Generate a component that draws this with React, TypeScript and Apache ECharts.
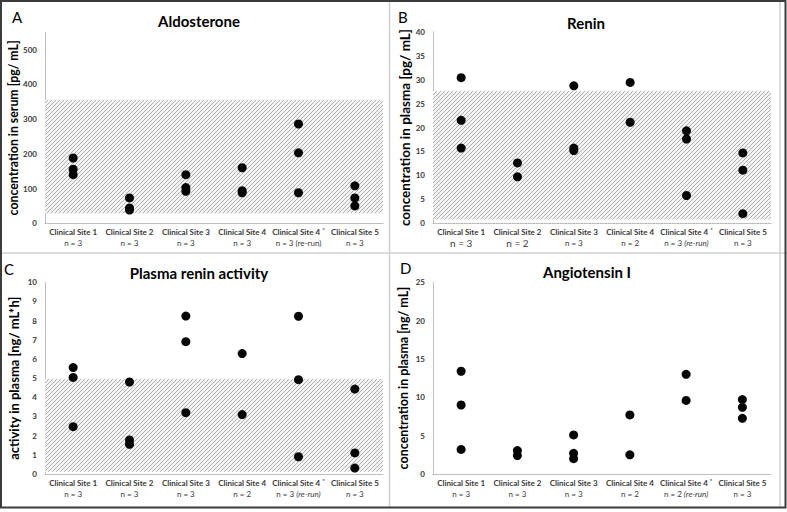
import React, { useEffect, useRef } from "react";
import * as echarts from "echarts";

// ---------- data ----------
const categories = [
  "Clinical Site 1",
  "Clinical Site 2",
  "Clinical Site 3",
  "Clinical Site 4",
  "Clinical Site 4*",
  "Clinical Site 5",
];

const nLabelsA = ["n = 3", "n = 3", "n = 3", "n = 3", "n = 3 (re-run)", "n = 3"];
const nLabelsB = ["n = 3", "n = 2", "n = 3", "n = 2", "n = 3 (re-run)", "n = 3"];
const nLabelsC = ["n = 3", "n = 3", "n = 3", "n = 2", "n = 3 (re-run)", "n = 3"];
const nLabelsD = ["n = 3", "n = 3", "n = 3", "n = 2", "n = 2 (re-run)", "n = 3"];

// Aldosterone (pg/mL)
const aldosterone = [
  [188, 156, 140],
  [73, 44, 38],
  [140, 103, 92],
  [160, 94, 88],
  [286, 203, 88],
  [108, 73, 50],
];
const aldosteroneRange = [29, 356];

// Renin (pg/mL)
const renin = [
  [30.4, 21.5, 15.7],
  [12.6, 9.7],
  [28.7, 15.7, 15.2],
  [29.4, 21.1],
  [19.3, 17.6, 5.8],
  [14.7, 11.1, 2.0],
];
const reninRange = [0.8, 27.6];

// Plasma renin activity (ng/mL*h)
const pra = [
  [5.55, 5.04, 2.47],
  [4.8, 1.78, 1.55],
  [8.24, 6.9, 3.2],
  [6.28, 3.1],
  [8.23, 4.92, 0.9],
  [4.43, 1.1, 0.31],
];
const praRange = [0.12, 4.96];

// Angiotensin I (ng/mL)
const angiotensin = [
  [13.4, 9.0, 3.2],
  [3.05, 2.4],
  [5.1, 2.7, 2.0],
  [7.7, 2.5],
  [13.0, 9.6],
  [9.7, 8.7, 7.26],
];

const titles = ["Aldosterone", "Renin", "Plasma renin activity", "Angiotensin I"];
const letters = ["A", "B", "C", "D"];
const yNames = [
  "concentration in serum [pg/ mL]",
  "concentration in plasma [pg/ mL]",
  "activity in plasma [ng/ mL*h]",
  "concentration in plasma [ng/ mL]",
];
const yMax = [550, 40, 10, 25];
const yInterval = [100, 5, 1, 5];

const FONT = "Lato, 'Open Sans', sans-serif";

export default function App() {
  const ref = useRef<HTMLDivElement>(null);

  useEffect(() => {
    if (!ref.current) return;
    const chart = echarts.init(ref.current, null, { renderer: "svg" });

    // hatch pattern tile
    const tile = document.createElement("canvas");
    tile.width = 4;
    tile.height = 4;
    const ctx = tile.getContext("2d")!;
    ctx.fillStyle = "#f4f4f4";
    ctx.fillRect(0, 0, 4, 4);
    ctx.strokeStyle = "#a9a9a9";
    ctx.lineWidth = 0.9;
    ctx.beginPath();
    ctx.moveTo(0, 4);
    ctx.lineTo(4, 0);
    ctx.moveTo(-1, 1);
    ctx.lineTo(1, -1);
    ctx.moveTo(3, 5);
    ctx.lineTo(5, 3);
    ctx.stroke();
    const hatch: any = { image: tile, repeat: "repeat", imageWidth: 4, imageHeight: 4 };

    const panelValues = [aldosterone, renin, pra, angiotensin];
    const panelRanges: (number[] | null)[] = [aldosteroneRange, reninRange, praRange, null];
    const panelN = [nLabelsA, nLabelsB, nLabelsC, nLabelsD];
    const italicReRun = [false, true, true, true];

    const grids = [
      { left: 45, top: 32.3, width: 338, height: 191 },
      { left: 433, top: 31.7, width: 338, height: 191.6 },
      { left: 45, top: 282.3, width: 338, height: 191.7 },
      { left: 433, top: 282.3, width: 337.5, height: 191.7 },
    ];
    const nameSizes = [12.3, 13.5, 13, 12.5];
    const nameGaps = [23.5, 21, 24.5, 23];
    const titlePos = [
      [199, 21],
      [586, 23],
      [199, 273],
      [587, 272],
    ];
    const letterPos = [
      [12, 17],
      [398, 16.5],
      [4, 269],
      [400, 268],
    ];

    const xAxes = grids.map((_, p) => ({
      type: "category",
      gridIndex: p,
      data: categories,
      boundaryGap: true,
      axisLine: { show: true, lineStyle: { color: "#bfbfbf", width: 1 } },
      axisTick: { show: false },
      splitLine: { show: false },
      axisLabel: {
        interval: 0,
        margin: 4,
        fontFamily: FONT,
        formatter: (value: string, idx: number) => {
          const star = value.endsWith("*");
          const name = star
            ? `{b|${value.slice(0, -1)}}{sup|*}`
            : `{b|${value}}`;
          const n = panelN[p][idx];
          const m = n.match(/^(.*?)(\(re-run\))$/);
          const big = p === 1 && idx < 2;
          const nStyle = big ? "nb" : "n";
          let second = `{${nStyle}|${n}}`;
          if (m) {
            second = italicReRun[p]
              ? `{n|${m[1]}}{i|${m[2]}}`
              : `{n|${m[1]}${m[2]}}`;
          }
          return name + "\n" + second;
        },
        rich: {
          b: { fontFamily: FONT, fontWeight: "bold", fontSize: 8, color: "#3a3a3a", lineHeight: 10 },
          sup: { fontFamily: FONT, fontWeight: "bold", fontSize: 6, color: "#3a3a3a", lineHeight: 10, padding: [0, 0, 5, 2] },
          n: { fontFamily: FONT, fontSize: 8, color: "#3a3a3a", lineHeight: 11 },
          nb: { fontFamily: FONT, fontSize: 10, color: "#3a3a3a", lineHeight: 11 },
          i: { fontFamily: FONT, fontStyle: "italic", fontSize: 8, color: "#3a3a3a", lineHeight: 11 },
        },
      },
    }));

    const yAxes = grids.map((_, p) => ({
      type: "value",
      gridIndex: p,
      min: 0,
      max: yMax[p],
      interval: yInterval[p],
      name: yNames[p],
      nameLocation: "middle",
      nameGap: nameGaps[p],
      nameRotate: 90,
      nameTextStyle: { fontFamily: FONT, fontWeight: "bold", fontSize: nameSizes[p], color: "#000" },
      axisLine: { show: true, lineStyle: { color: "#bfbfbf", width: 1 } },
      axisTick: { show: false },
      splitLine: { show: false },
      axisLabel: {
        showMaxLabel: p === 0 ? false : true,
        margin: 8,
        fontFamily: FONT,
        fontWeight: "bold",
        fontSize: 8,
        color: "#3a3a3a",
      },
    }));

    const series = panelValues.map((vals, p) => {
      const data: number[][] = [];
      vals.forEach((arr, i) => arr.forEach((v) => data.push([i, v])));
      const range = panelRanges[p];
      const s: any = {
        type: "scatter",
        xAxisIndex: p,
        yAxisIndex: p,
        data,
        symbol: "circle",
        symbolSize: 9,
        itemStyle: { color: "#050505", opacity: 1 },
        z: 3,
      };
      if (range) {
        s.markArea = {
          silent: true,
          z: 1,
          itemStyle: { color: hatch, borderWidth: 0, opacity: 1 },
          data: [[{ yAxis: range[0] }, { yAxis: range[1] }]],
        };
      }
      return s;
    });

    const graphics: any[] = [];
    titles.forEach((t, p) => {
      graphics.push({
        type: "text",
        x: titlePos[p][0],
        y: titlePos[p][1],
        style: {
          text: t,
          fontFamily: FONT,
          fontWeight: "bold",
          fontSize: 15,
          fill: "#000",
          textAlign: "center",
          textVerticalAlign: "middle",
        },
      });
      graphics.push({
        type: "text",
        x: letterPos[p][0],
        y: letterPos[p][1],
        style: {
          text: letters[p],
          fontFamily: FONT,
          fontSize: 15,
          fill: "#000",
          textAlign: "left",
          textVerticalAlign: "middle",
        },
      });
    });
    // panel frames
    graphics.push({ type: "line", shape: { x1: 389.5, y1: 0, x2: 389.5, y2: 508 }, style: { stroke: "#d0d0d0", lineWidth: 1.5 } });
    graphics.push({ type: "line", shape: { x1: 780, y1: 0, x2: 780, y2: 508 }, style: { stroke: "#d0d0d0", lineWidth: 1.5 } });
    graphics.push({ type: "line", shape: { x1: 0, y1: 253, x2: 787, y2: 253 }, style: { stroke: "#d0d0d0", lineWidth: 1.5 } });
    graphics.push({ type: "rect", shape: { x: 1, y: 1, width: 784.5, height: 506.5 }, style: { fill: "none", stroke: "#3c3c3c", lineWidth: 2 } });

    chart.setOption({
      animation: false,
      backgroundColor: "#ffffff",
      grid: grids.map((g) => ({ ...g, containLabel: false })),
      xAxis: xAxes,
      yAxis: yAxes,
      series,
      graphic: graphics,
    } as any);

    return () => chart.dispose();
  }, []);

  return (
    <div
      ref={ref}
      style={{ position: "fixed", left: 0, top: 0, width: 787, height: 512, background: "#fff" }}
    />
  );
}
